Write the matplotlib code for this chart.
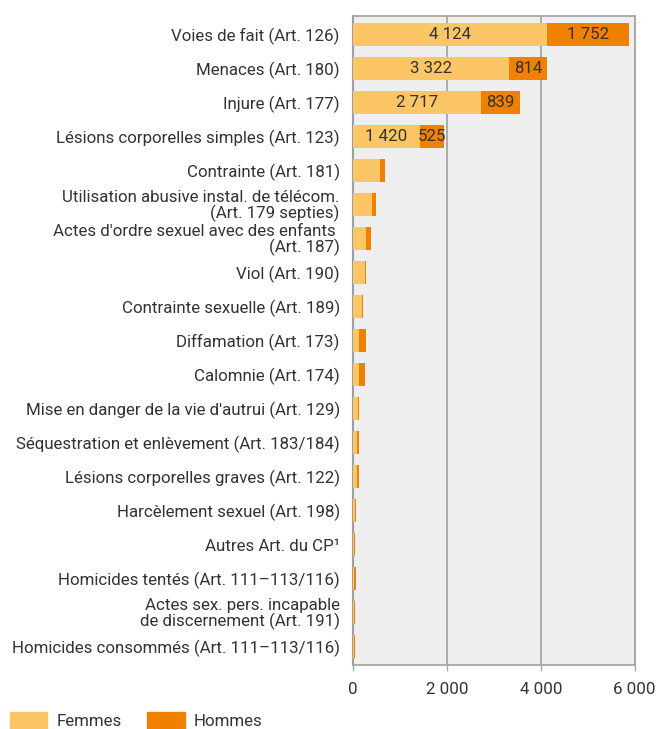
import matplotlib.pyplot as plt
from matplotlib.patches import Patch

plt.rcParams['font.family'] = ['Roboto', 'DejaVu Sans']

infractions = [
    "Voies de fait (Art. 126)",
    "Menaces (Art. 180)",
    "Injure (Art. 177)",
    "Lésions corporelles simples (Art. 123)",
    "Contrainte (Art. 181)",
    "Utilisation abusive instal. de télécom.\n(Art. 179 septies)",
    "Actes d'ordre sexuel avec des enfants \n(Art. 187)",
    "Viol (Art. 190)",
    "Contrainte sexuelle (Art. 189)",
    "Diffamation (Art. 173)",
    "Calomnie (Art. 174)",
    "Mise en danger de la vie d'autrui (Art. 129)",
    "Séquestration et enlèvement (Art. 183/184)",
    "Lésions corporelles graves (Art. 122)",
    "Harcèlement sexuel (Art. 198)",
    "Autres Art. du CP¹",
    "Homicides tentés (Art. 111–113/116)",
    "Actes sex. pers. incapable\nde discernement (Art. 191)",
    "Homicides consommés (Art. 111–113/116)",
]
femmes = [4124, 3322, 2717, 1420, 580, 410, 283, 265, 200, 135, 135, 110, 90, 85, 50, 15, 20, 15, 15]
hommes = [1752, 814, 839, 525, 105, 85, 106, 15, 15, 145, 125, 20, 45, 50, 20, 35, 50, 35, 35]
# only the largest rows carry value labels
n_labelled = 4

c_femmes = "#FCC666"
c_hommes = "#F08000"
grey = "#A6A6A6"
txt = "#333333"
fs = 12.2


def fmt(v):
    return f"{v:,}".replace(",", " ")


fig = plt.figure(figsize=(6.58, 7.29), dpi=100)
ax = fig.add_axes([0.5365, 0.0878, 0.4280, 0.8902])
ax.set_facecolor("#EFEFEF")

y = list(range(len(infractions)))
ax.barh(y, femmes, height=0.67, color=c_femmes, zorder=3)
ax.barh(y, hommes, left=femmes, height=0.67, color=c_hommes, zorder=3)

for i in range(n_labelled):
    ax.text(femmes[i] / 2, i, fmt(femmes[i]), ha="center", va="center",
            fontsize=fs, color=txt, zorder=4)
    ax.text(femmes[i] + hommes[i] / 2, i, fmt(hommes[i]), ha="center", va="center",
            fontsize=fs, color=txt, zorder=4)

ax.set_xlim(0, 6000)
ax.set_ylim(len(infractions) - 0.456, -0.544)
ax.set_xticks([0, 2000, 4000, 6000])
ax.set_xticklabels([fmt(v) for v in [0, 2000, 4000, 6000]])
ax.set_yticks(y)
ax.set_yticklabels(infractions, linespacing=0.95)

ax.grid(axis="x", color=grey, linewidth=1.3, zorder=1)
for s in ax.spines.values():
    s.set_color(grey)
    s.set_linewidth(1.3)
ax.spines["left"].set_color("#9E9E9E")
ax.spines["left"].set_linewidth(1.5)

ax.tick_params(axis="y", length=0, pad=9.5, labelsize=fs, labelcolor=txt)
ax.tick_params(axis="x", length=4, width=1, color=grey, pad=8,
               labelsize=fs, labelcolor=txt)

handles = [Patch(color=c_femmes, label="Femmes"), Patch(color=c_hommes, label="Hommes")]
fig.legend(handles=handles, loc="lower left", bbox_to_anchor=(10 / 658, 0.0), ncol=2,
           frameon=False, fontsize=fs, handlelength=2.2, handleheight=1.2,
           handletextpad=0.55, columnspacing=1.5, borderpad=0, borderaxespad=0,
           labelcolor=txt)

fig.savefig("out.png", dpi=100)
